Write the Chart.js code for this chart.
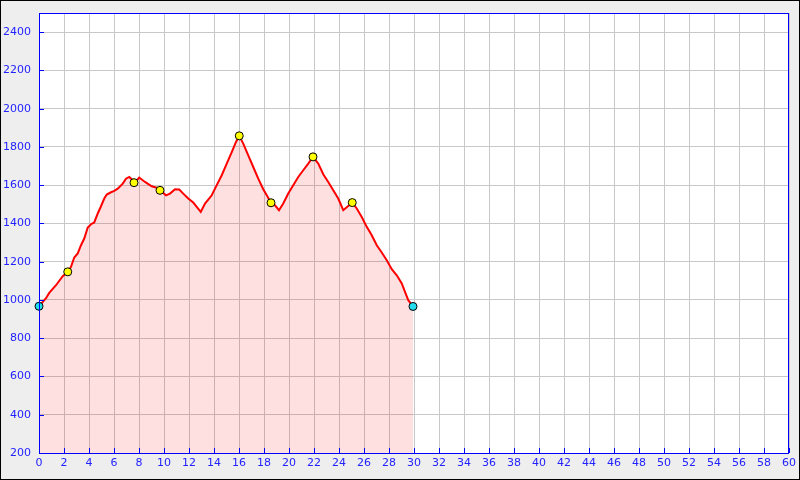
<!DOCTYPE html>
<html>
<head>
<meta charset="utf-8">
<script src="https://cdn.jsdelivr.net/npm/chart.js@4/dist/chart.umd.min.js"></script>
<style>
  body { margin: 0; background: #fff; }
  canvas { display: block; }
</style>
</head>
<body>
<canvas id="perfil" width="800" height="480"></canvas>
<script>
// distancia (km) y altitud (m) del perfil
const distKm = [0, 0.56, 0.82, 1.36, 1.9, 2.3, 2.56, 2.82, 3.1, 3.36, 3.62, 3.9, 4.16, 4.42, 4.7, 4.96,
  5.22, 5.42, 5.76, 6.02, 6.3, 6.7, 6.96, 7.22, 7.5, 7.6, 7.9, 8.02, 8.48, 9.02, 9.42, 9.68,
  10.16, 10.48, 10.88, 11.22, 11.54, 11.94, 12.34, 12.62, 12.94, 13.28, 13.82, 14.22, 14.62,
  15.02, 15.42, 15.76, 16.02, 16.34, 16.74, 17.14, 17.54, 17.94, 18.22, 18.56, 18.88, 19.2,
  19.54, 19.94, 20.34, 20.74, 21.14, 21.54, 21.92, 22.34, 22.74, 23.14, 23.54, 23.94, 24.34,
  24.74, 25.06, 25.42, 25.82, 26.22, 26.62, 27.02, 27.42, 27.82, 28.22, 28.62, 29.02, 29.28,
  29.54, 29.92];
const elevM = [967, 1009, 1037, 1077, 1124, 1147, 1173, 1222, 1243, 1286, 1321, 1379, 1396, 1405, 1452, 1490,
  1530, 1551, 1563, 1570, 1582, 1608, 1634, 1643, 1626, 1613, 1631, 1640, 1617, 1594, 1587, 1573,
  1547, 1556, 1579, 1577, 1556, 1530, 1509, 1486, 1460, 1504, 1547, 1600, 1652,
  1713, 1773, 1826, 1858, 1817, 1756, 1695, 1634, 1579, 1547, 1508, 1495, 1469,
  1504, 1556, 1600, 1643, 1678, 1713, 1748, 1713, 1657, 1617, 1573, 1530, 1469,
  1491, 1509, 1478, 1434, 1382, 1338, 1286, 1248, 1208, 1161, 1129, 1086, 1042,
  999, 966];

// salida y llegada
const extremosKm = [0, 29.92];
const extremosM = [967, 966];
// puntos de paso
const pasoKm = [2.3, 7.6, 9.68, 16.02, 18.56, 21.92, 25.06];
const pasoM = [1147, 1613, 1573, 1858, 1508, 1748, 1509];

const xTicks = [];
for (let i = 0; i <= 60; i += 2) xTicks.push(i);
const yTicks = [200, 400, 600, 800, 1000, 1200, 1400, 1600, 1800, 2000, 2200, 2400];

const azul = '#0000ff';

// fondo gris, area blanca, borde negro
const fondo = {
  id: 'fondo',
  beforeDraw(chart) {
    const c = chart.ctx, a = chart.chartArea;
    c.save();
    c.fillStyle = '#eeeeee';
    c.fillRect(0, 0, chart.width, chart.height);
    c.fillStyle = '#ffffff';
    c.fillRect(a.left, a.top, a.right - a.left, a.bottom - a.top);
    c.strokeStyle = '#000';
    c.lineWidth = 1;
    c.strokeRect(0.5, 0.5, chart.width - 1, chart.height - 1);
    c.restore();
  }
};

// marco azul y marcas hacia dentro
const marco = {
  id: 'marco',
  afterDatasetsDraw(chart) {
    const c = chart.ctx, a = chart.chartArea;
    const sx = chart.scales.x, sy = chart.scales.y;
    c.save();
    c.strokeStyle = azul;
    c.lineWidth = 1;
    c.beginPath();
    xTicks.forEach(v => {
      const px = Math.round(sx.getPixelForValue(v)) + 0.5;
      c.moveTo(px, Math.round(a.bottom));
      c.lineTo(px, Math.round(a.bottom) - 5);
    });
    yTicks.forEach(v => {
      const py = Math.round(sy.getPixelForValue(v)) + 0.5;
      c.moveTo(Math.round(a.left), py);
      c.lineTo(Math.round(a.left) + 5, py);
    });
    c.stroke();
    c.strokeRect(Math.round(a.left) + 0.5, Math.round(a.top) + 0.5,
      Math.round(a.right - a.left) - 1, Math.round(a.bottom - a.top));
    c.restore();
  }
};

const toXY = (xs, ys) => xs.map((x, i) => ({ x: x, y: ys[i] }));

const ctx = document.getElementById('perfil');
const chart = new Chart(ctx, {
  type: 'line',
  data: {
    datasets: [
      {
        label: 'extremos',
        data: toXY(extremosKm, extremosM),
        showLine: false,
        pointRadius: 4,
        pointBackgroundColor: '#22ddee',
        pointBorderColor: '#000',
        pointBorderWidth: 1,
        clip: false
      },
      {
        label: 'paso',
        data: toXY(pasoKm, pasoM),
        showLine: false,
        pointRadius: 4,
        pointBackgroundColor: '#ffff00',
        pointBorderColor: '#000',
        pointBorderWidth: 1,
        clip: false
      },
      {
        label: 'perfil',
        data: toXY(distKm, elevM),
        borderColor: '#ff0000',
        borderWidth: 2,
        backgroundColor: 'rgba(255,0,0,0.12)',
        fill: 'start',
        pointRadius: 0,
        tension: 0
      }
    ]
  },
  options: {
    responsive: false,
    animation: false,
    layout: { padding: { top: 13, right: 11, left: 0, bottom: 0 } },
    plugins: {
      legend: { display: false },
      tooltip: { enabled: false }
    },
    scales: {
      x: {
        type: 'linear',
        min: 0,
        max: 60,
        afterBuildTicks: s => { s.ticks = xTicks.map(v => ({ value: v })); },
        afterFit: s => { s.height = 27; s.paddingLeft = 0; s.paddingRight = 0; },
        grid: { color: '#c8c8c8', lineWidth: 1, drawTicks: false },
        border: { display: false },
        ticks: {
          color: '#2222ff',
          padding: 4,
          maxRotation: 0,
          autoSkip: false,
          callback: v => String(v),
          font: { family: 'DejaVu Sans', size: 11 }
        }
      },
      y: {
        type: 'linear',
        min: 200,
        max: 2500,
        afterBuildTicks: s => { s.ticks = yTicks.map(v => ({ value: v })); },
        afterFit: s => { s.width = 39; s.paddingTop = 0; s.paddingBottom = 0; },
        grid: { color: '#c8c8c8', lineWidth: 1, drawTicks: false },
        border: { display: false },
        ticks: {
          color: '#2222ff',
          padding: 8,
          autoSkip: false,
          callback: v => String(v),
          font: { family: 'DejaVu Sans', size: 11 }
        }
      }
    }
  },
  plugins: [fondo, marco]
});
</script>
</body>
</html>
